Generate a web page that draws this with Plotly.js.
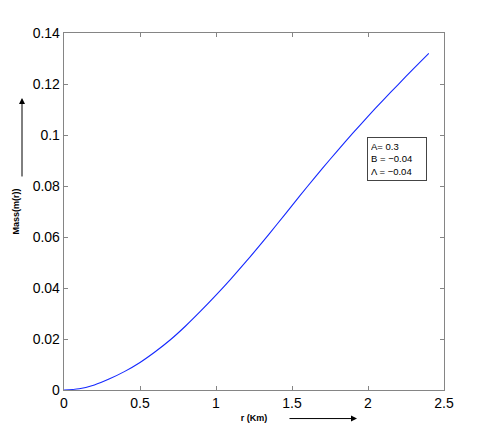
<!DOCTYPE html>
<html>
<head>
<meta charset="utf-8">
<script src="https://cdn.plot.ly/plotly-3.0.1.min.js"></script>
<style>html,body{margin:0;padding:0;background:#fff;}#chart{width:491px;height:439px;}</style>
</head>
<body>
<div id="chart"></div>
<script>
const radius = [0, 0.1, 0.2, 0.3, 0.4, 0.5, 0.6, 0.7, 0.8, 0.9, 1.0, 1.1, 1.2, 1.3, 1.4, 1.5, 1.6, 1.7, 1.8, 1.9, 2.0, 2.1, 2.2, 2.3, 2.4];
const mass = [0, 0.0005, 0.0020, 0.0044, 0.0073, 0.0108, 0.0150, 0.0197, 0.0251, 0.0310, 0.0372, 0.0437, 0.0505, 0.0576, 0.0649, 0.0723, 0.0797, 0.0869, 0.0939, 0.1007, 0.1073, 0.1137, 0.1199, 0.1260, 0.1320];
const xTicks = [0, 0.5, 1, 1.5, 2, 2.5];
const xTickText = ['0', '0.5', '1', '1.5', '2', '2.5'];
const yTicks = [0, 0.02, 0.04, 0.06, 0.08, 0.1, 0.12, 0.14];
const yTickText = ['0', '0.02', '0.04', '0.06', '0.08', '0.1', '0.12', '0.14'];
const paramText = 'A= 0.3<br>B = \u22120.04<br>\u039B = \u22120.04';

const font = 'Liberation Sans, Arial, Helvetica, sans-serif';
const trace = {
  x: radius, y: mass, type: 'scatter', mode: 'lines',
  line: {color: 'rgb(20,40,255)', width: 1.1, shape: 'spline', smoothing: 0.8},
  showlegend: false, hoverinfo: 'skip'
};
const axisCommon = {
  showgrid: false, zeroline: false, showline: true, linecolor: '#858585', linewidth: 1.3,
  mirror: 'ticks', ticks: 'inside', ticklen: 4, tickcolor: '#858585', tickwidth: 1,
  tickfont: {family: font, size: 14, color: '#000'}, tickmode: 'array'
};
const layout = {
  width: 491, height: 439,
  margin: {l: 64, r: 47, t: 33, b: 48.5},
  paper_bgcolor: '#fff', plot_bgcolor: '#fff',
  xaxis: Object.assign({}, axisCommon, {
    range: [0, 2.5], tickvals: xTicks, ticktext: xTickText,
    title: {text: '<b>r (Km)</b>', font: {family: font, size: 9, color: '#000'}, standoff: 4}
  }),
  yaxis: Object.assign({}, axisCommon, {
    range: [0, 0.14], tickvals: yTicks, ticktext: yTickText,
    title: {text: '<b>Mass(m(r))</b>', font: {family: font, size: 9, color: '#000'}, standoff: 11}
  }),
  annotations: [
    {xref: 'paper', yref: 'paper', x: 0.771, y: -0.08, ax: -69, ay: 0, text: '',
     showarrow: true, arrowhead: 2, arrowsize: 1.2, arrowwidth: 1, arrowcolor: '#000'},
    {xref: 'paper', yref: 'paper', x: -0.1105, y: 0.818, ax: 0, ay: 80, text: '',
     showarrow: true, arrowhead: 2, arrowsize: 1.2, arrowwidth: 1, arrowcolor: '#000'},
    {xref: 'paper', yref: 'paper', x: 0.797, y: 0.709, xanchor: 'left', yanchor: 'top',
     text: paramText, align: 'left', showarrow: false,
     font: {family: font, size: 9.5, color: '#000'},
     bordercolor: '#444', borderwidth: 1, borderpad: 3, bgcolor: '#fff', width: 52}
  ]
};
Plotly.newPlot('chart', [trace], layout, {staticPlot: true, displayModeBar: false});
</script>
</body>
</html>
